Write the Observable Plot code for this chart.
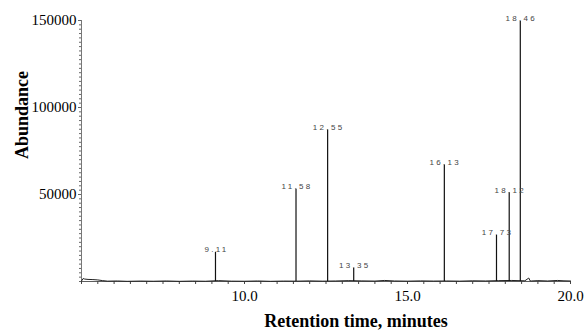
<!DOCTYPE html>
<html>
<head>
<meta charset="utf-8">
<script src="https://cdn.jsdelivr.net/npm/d3@7"></script>
<script src="https://cdn.jsdelivr.net/npm/@observablehq/plot@0.6"></script>
<style>
  html, body { margin: 0; padding: 0; background: #fff; }
  #chart svg { display: block; }
</style>
</head>
<body>
<div id="chart"></div>
<script>
// Peaks (retention time in minutes, abundance)
const peakTimes   = [9.11, 11.58, 12.55, 13.35, 16.13, 17.73, 18.12, 18.46];
const peakHeights = [16800, 53000, 87000, 7600, 67000, 26500, 51000, 149500];
const peakLabels  = ["9.11", "11.58", "12.55", "13.35", "16.13", "17.73", "18.12", "18.46"];

// Baseline trace (time, abundance)
const baseTimes = [5.0, 5.05, 5.1, 5.2, 5.35, 5.5, 5.65, 5.8, 6.1, 6.4, 6.8, 7.2, 7.6, 8.0, 8.4, 8.8, 9.2, 9.6, 10.0, 10.4, 10.8, 11.2, 11.6, 12.0, 12.4, 12.8, 13.2, 13.6, 14.0, 14.3, 14.6, 15.0, 15.4, 15.8, 16.2, 16.6, 17.0, 17.4, 17.8, 18.2, 18.6, 18.72, 18.76, 18.8, 19.0, 19.3, 19.6, 19.8, 20.0];
const baseVals  = [300, 1700, 1400, 1200, 1100, 900, 500, 200, 300, 100, 250, 150, 300, 100, 250, 150, 500, 200, 150, 300, 100, 250, 200, 350, 200, 300, 500, 350, 250, 600, 300, 200, 350, 250, 300, 200, 400, 300, 500, 600, 400, 2000, 400, 300, 500, 300, 600, 400, 300];

// Axis ticks and titles
const xTicks = [10, 15, 20];
const yTicks = [50000, 100000, 150000];
const xTitle = "Retention time, minutes";
const yTitle = "Abundance";

const peaks = peakTimes.map((t, i) => ({t, h: peakHeights[i], label: peakLabels[i]}));
const base = baseTimes.map((t, i) => ({t, v: baseVals[i]}));

const serif = "Liberation Serif";
const sans = "Liberation Sans";

const chart = Plot.plot({
  width: 584,
  height: 330,
  marginLeft: 81,
  marginRight: 14,
  marginTop: 20,
  marginBottom: 49,
  style: {background: "#fff", color: "#000"},
  x: {domain: [5, 20]},
  y: {domain: [0, 150000]},
  marks: [
    Plot.ruleX([5], {y1: 0, y2: 150000, stroke: "#777", strokeWidth: 1}),
    Plot.ruleY([0], {stroke: "#333", strokeWidth: 0.8}),
    Plot.axisY({ticks: d3.range(0, 150001, 2500), tickSize: 2, text: null, label: null, stroke: "#666"}),
    Plot.axisX({ticks: d3.range(5, 20.01, 0.5), tickSize: 3, text: null, label: null, stroke: "#444"}),
    Plot.axisY({ticks: yTicks, tickSize: 3, tickPadding: 2, fontSize: 15, label: null, stroke: "#666", tickFormat: d => String(d)}),
    Plot.axisX({ticks: xTicks, tickSize: 0, tickPadding: 9, fontSize: 15, label: null, tickFormat: d => d.toFixed(1)}),
    Plot.line(base, {x: "t", y: "v", stroke: "#222", strokeWidth: 1}),
    Plot.ruleX(peaks, {x: "t", y1: 0, y2: "h", stroke: "#111", strokeWidth: 1.2}),
    Plot.text(peaks, {x: "t", y: "h", text: "label", dy: 0, dx: 1, lineAnchor: "bottom", textAnchor: "middle",
      fontSize: 8, fill: "#444"}),
    Plot.text([xTitle], {frameAnchor: "bottom", dx: 30, dy: 40, text: d => d, fontSize: 18, fontWeight: "bold", textAnchor: "middle", lineAnchor: "middle"}),
    Plot.text([yTitle], {frameAnchor: "left", dx: -59, dy: -36, text: d => d, rotate: -90, fontSize: 18, fontWeight: "bold", textAnchor: "middle", lineAnchor: "middle"})
  ]
});

// fonts: serif for axes/titles, spaced sans for peak labels
chart.querySelectorAll("text").forEach(t => {
  if (peakLabels.includes(t.textContent)) {
    t.style.fontFamily = sans;
    t.style.letterSpacing = "2.3px";
  } else {
    t.style.fontFamily = serif;
  }
});

document.getElementById("chart").append(chart);
</script>
</body>
</html>
